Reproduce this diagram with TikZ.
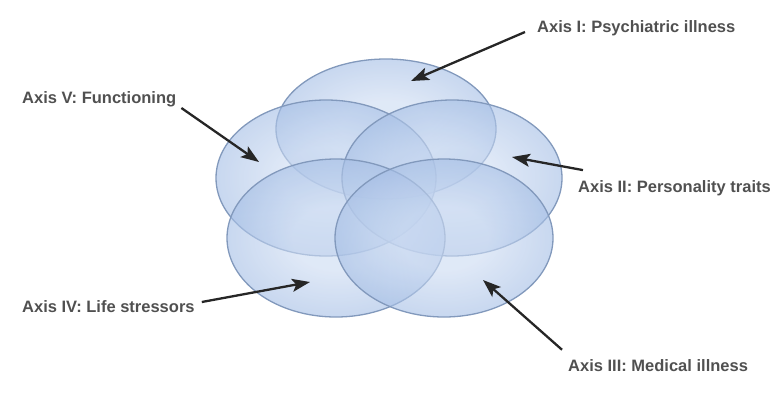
\documentclass[tikz,border=0pt]{standalone}
\usepackage{fontspec}
\setmainfont{Liberation Sans}
\usetikzlibrary{shapes.geometric,arrows.meta}

\definecolor{axisedge}{HTML}{8299BC}
\definecolor{axisin}{HTML}{CCDBF2}
\definecolor{axisout}{HTML}{6690D0}
\definecolor{labelgray}{HTML}{505050}
\pgfdeclareradialshading{axisglow}{\pgfpoint{0bp}{0bp}}{color(0bp)=(axisin); color(10bp)=(axisin); color(50bp)=(axisout)}

\begin{document}
\begin{tikzpicture}[x=1pt,y=-1pt,>={Stealth[length=18pt,width=13pt,inset=4pt]}]
			\tikzset{
				axis/.style={ellipse,draw=axisedge,line width=1.3pt,shade,shading=axisglow,fill opacity=0.62,draw opacity=1,inner sep=0pt},
				lbl/.style={inner sep=0pt,text=labelgray,font=\fontsize{16.5}{20}\selectfont\bfseries},
				pointer/.style={->,line width=2.3pt,draw=black!85}
			}
			\useasboundingbox (0,0) rectangle (784,394);
			
			% the five axes
			\node[axis,minimum width=220pt,minimum height=140pt] (ax1) at (386,129) {};
			\node[axis,minimum width=220pt,minimum height=156pt] (ax5) at (326,178) {};
			\node[axis,minimum width=220pt,minimum height=156pt] (ax2) at (452,178) {};
			\node[axis,minimum width=218pt,minimum height=158pt] (ax4) at (336,238) {};
			\node[axis,minimum width=218pt,minimum height=158pt] (ax3) at (444,238) {};
			
			% labels
			\node[lbl,anchor=west] (lab1) at (537,28) {Axis I: Psychiatric illness};
			\node[lbl,anchor=west] (lab5) at (22,99) {Axis V: Functioning};
			\node[lbl,anchor=west] (lab2) at (578,188) {Axis II: Personality traits};
			\node[lbl,anchor=west] (lab4) at (22,307) {Axis IV: Life stressors};
			\node[lbl,anchor=west] (lab3) at (568,366) {Axis III: Medical illness};
			
			\coordinate (tip1) at (411,81);
			\coordinate (tip5) at (259,162);
			\coordinate (tip2) at (512,157);
			\coordinate (tip4) at (310,282);
			\coordinate (tip3) at (483,280);
			
			\draw[pointer] ([shift={(-12,4)}]lab1.west) -- (tip1);
			\draw[pointer] ([shift={(5,9)}]lab5.east) -- (tip5);
			\draw[pointer] ([shift={(5,-10)}]lab2.north west) -- (tip2);
			\draw[pointer] ([shift={(7,-5)}]lab4.east) -- (tip4);
			\draw[pointer] ([shift={(-6,-10)}]lab3.north west) -- (tip3);
		\end{tikzpicture}
\end{document}
